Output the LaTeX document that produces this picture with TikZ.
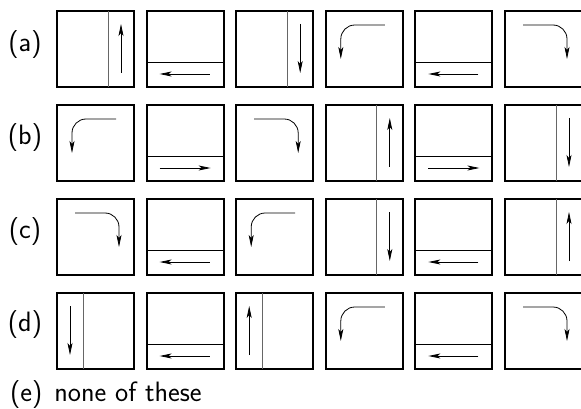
\documentclass[tikz,border=0pt]{standalone}
\usetikzlibrary{arrows.meta}
\tikzset{
  frame/.style={line width=2pt},
  split/.style={line width=.8pt,black!60},
  flow/.style={line width=.8pt,-{Stealth[length=12pt,width=5pt,inset=3pt]}},
  lbl/.style={font=\sffamily\fontsize{28}{33}\selectfont,inner sep=0pt},
  rup/.pic={\draw[frame](0,0) rectangle (77,76);
    \draw[split](51,0)--(51,76);
    \draw[flow](64,62)--(64,13);},
  rdown/.pic={\draw[frame](0,0) rectangle (77,76);
    \draw[split](51,0)--(51,76);
    \draw[flow](64,13)--(64,62);},
  lup/.pic={\draw[frame](0,0) rectangle (77,76);
    \draw[split](26,0)--(26,76);
    \draw[flow](13,62)--(13,13);},
  ldown/.pic={\draw[frame](0,0) rectangle (77,76);
    \draw[split](26,0)--(26,76);
    \draw[flow](13,13)--(13,62);},
  bleft/.pic={\draw[frame](0,0) rectangle (77,76);
    \draw[black,line width=.8pt](0,51)--(77,51);
    \draw[flow](63,63)--(13,63);},
  bright/.pic={\draw[frame](0,0) rectangle (77,76);
    \draw[black,line width=.8pt](0,51)--(77,51);
    \draw[flow](13,63)--(64,63);},
  turnl/.pic={\draw[frame](0,0) rectangle (77,76);
    \draw[flow,rounded corners=14](59,14)--(15,14)--(15,48);},
  turnr/.pic={\draw[frame](0,0) rectangle (77,76);
    \draw[flow,rounded corners=14](18,14)--(62,14)--(62,48);}
}
\begin{document}
\begin{tikzpicture}[x=1pt,y=-1pt]
\useasboundingbox (0,0) rectangle (581,409);
% row (a)
\node[lbl] (la) at (25,45) {(a)};
\pic at (57,11) {rup};
\pic at (146.6,11) {bleft};
\pic at (236.2,11) {rdown};
\pic at (325.8,11) {turnl};
\pic at (415.4,11) {bleft};
\pic at (505,11) {turnr};
% row (b)
\node[lbl] (lb) at (25,138) {(b)};
\pic at (57,105) {turnl};
\pic at (146.6,105) {bright};
\pic at (236.2,105) {turnr};
\pic at (325.8,105) {rup};
\pic at (415.4,105) {bright};
\pic at (505,105) {rdown};
% row (c)
\node[lbl] (lc) at (25,232) {(c)};
\pic at (57,199) {turnr};
\pic at (146.6,199) {bleft};
\pic at (236.2,199) {turnl};
\pic at (325.8,199) {rdown};
\pic at (415.4,199) {bleft};
\pic at (505,199) {rup};
% row (d)
\node[lbl] (ld) at (25,325) {(d)};
\pic at (57,293) {ldown};
\pic at (146.6,293) {bleft};
\pic at (236.2,293) {lup};
\pic at (325.8,293) {turnl};
\pic at (415.4,293) {bleft};
\pic at (505,293) {turnr};
% answer (e)
\node[lbl,anchor=west] (le) at (10,395) {(e)\hspace{12pt}none of these};
\end{tikzpicture}
\end{document}
